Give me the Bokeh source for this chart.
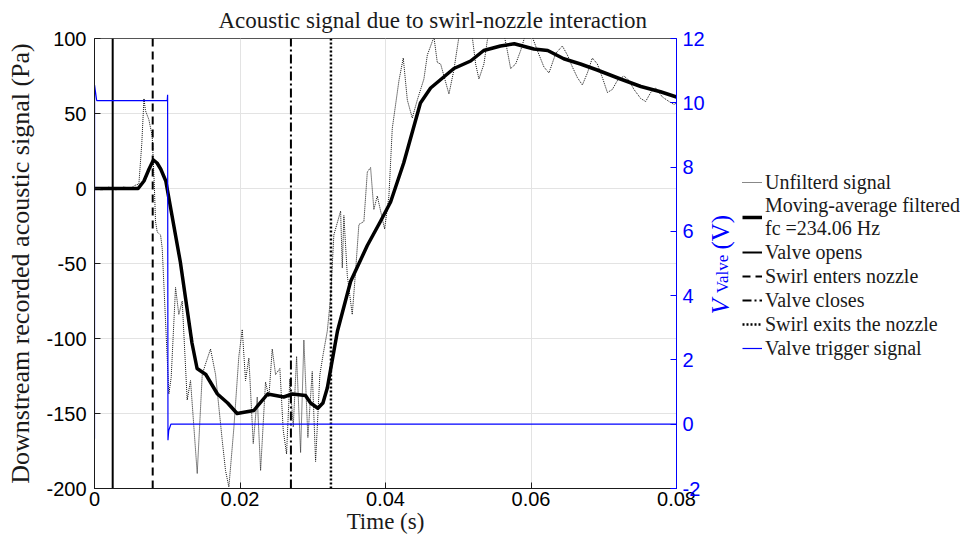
import numpy as np
from bokeh.plotting import figure
from bokeh.layouts import row
from bokeh.models import (Range1d, LinearAxis, Legend, LegendItem, Label,
                          FixedTicker)
from bokeh.embed import file_html
from bokeh.resources import INLINE

# ---------------- data ----------------
t_raw = [0.0, 0.001, 0.002, 0.003, 0.004, 0.005, 0.0055, 0.0061, 0.0065, 0.0068,
         0.0070, 0.00747, 0.00793, 0.0082, 0.00839, 0.00862, 0.00908, 0.00931,
         0.00976, 0.01022, 0.01054, 0.01114, 0.01159, 0.01206, 0.01274, 0.0132,
         0.01412, 0.01481, 0.01526, 0.01595, 0.01664, 0.01756, 0.01801, 0.01847,
         0.01915, 0.01984, 0.02031, 0.02076, 0.02122, 0.02182, 0.02237, 0.02283,
         0.02351, 0.02397, 0.02443, 0.02489, 0.02548, 0.02594, 0.0264, 0.02685,
         0.02732, 0.02778, 0.02833, 0.02878, 0.02933, 0.02993, 0.03039, 0.03098,
         0.03145, 0.032, 0.03245, 0.0329, 0.03383, 0.03406, 0.03428, 0.03475,
         0.03543, 0.03589, 0.03634, 0.03703, 0.0375, 0.03795, 0.0384, 0.03887,
         0.03933, 0.03988, 0.04047, 0.04093, 0.04185, 0.04244, 0.043, 0.04368,
         0.04437, 0.04528, 0.04575, 0.04666, 0.04712, 0.04758, 0.04872, 0.0494,
         0.05009, 0.0508, 0.05193, 0.05239, 0.05284, 0.05353, 0.054, 0.0548,
         0.05628, 0.05674, 0.0572, 0.05789, 0.05858, 0.05926, 0.06018, 0.06087,
         0.06178, 0.06247, 0.06339, 0.06431, 0.065, 0.06569, 0.06637, 0.06706,
         0.06775, 0.06843, 0.06912, 0.06981, 0.0705, 0.07118, 0.07187, 0.07278,
         0.07347, 0.07416, 0.07508, 0.07576, 0.07645, 0.07714, 0.07806, 0.07897,
         0.07966, 0.08]
p_raw = [0, -1, 1, -1, 1, 0, 2, 3, 30, 60,
         52, 46, 35, 5, -22, -29, -31, -40,
         -88, -137, -126, -66, -84, -75, -141, -128,
         -190, -124, -117, -107, -124, -168, -188, -199,
         -160, -112, -94, -128, -113, -170, -139, -188,
         -129, -139, -107, -124, -120, -161, -177, -127,
         -159, -112, -176, -101, -166, -122, -182, -124,
         -110, -95, -73, -31, -15, -53, -18, -58,
         -84, -55, -24, -22, 11, 14, -14, -5,
         -15, -27, -5, 40, 72, 87, 59, 47,
         59, 73, 89, 101, 84, 83, 63, 79,
         101, 110, 101, 83, 73, 83, 99, 110,
         103, 92, 80, 83, 92, 103, 101, 92,
         81, 77, 90, 95, 89, 81, 74, 69,
         77, 87, 83, 74, 64, 66, 72, 75,
         72, 66, 60, 58, 64, 67, 61, 58,
         56, 57]

t_ma = [0.0, 0.006, 0.0068, 0.0075, 0.0081, 0.0086, 0.0091, 0.0098, 0.0118,
        0.0134, 0.0141, 0.0153, 0.0169, 0.0183, 0.0196, 0.0219, 0.0238, 0.0260,
        0.0272, 0.0290, 0.0297, 0.0307, 0.0314, 0.0320, 0.0334, 0.0352, 0.0375,
        0.0393, 0.0407, 0.0425, 0.0448, 0.0462, 0.0494, 0.0517, 0.0535, 0.0558,
        0.0577, 0.0604, 0.0623, 0.0645, 0.0668, 0.0691, 0.0723, 0.0751, 0.0778,
        0.08]
p_ma = [0, 0, 5, 13, 19, 17, 13, 5, -49,
        -103, -120, -124, -137, -143, -150, -148, -137, -139,
        -137, -138, -143, -146.5, -143, -133, -95, -62, -38,
        -22, -9, 17, 57, 67, 80, 85, 92, 95,
        96.5, 93, 92, 86.5, 83, 79, 73, 68, 64.5,
        61]

t_trig = [0.0, 0.00001, 0.0003, 0.0100, 0.01005, 0.0101, 0.0102, 0.0105, 0.08]
v_trig = [-0.45, 10.55, 10.07, 10.07, 10.25, -0.5, -0.2, 0.0, 0.0]

event_times = [0.0025, 0.008, 0.027, 0.0325]
event_names = ["Valve opens", "Swirl enters nozzle", "Valve closes",
               "Swirl exits the nozzle"]

x_lim = (0, 0.08)
y_lim = (-200, 100)
v_lim = (-2, 12)
x_ticks = [0, 0.02, 0.04, 0.06, 0.08]
x_tick_labels = ["0", "0.02", "0.04", "0.06", "0.08"]
y_ticks = [-200, -150, -100, -50, 0, 50, 100]
y_tick_labels = ["-200", "-150", "-100", "-50", "0", "50", "100"]
v_ticks = [-2, 0, 2, 4, 6, 8, 10, 12]
v_tick_labels = ["-2", "0", "2", "4", "6", "8", "10", "12"]

# ---------------- layout constants (pixels) ----------------
H = 536
TOP, BOTTOM = 38, 46          # borders above / below the frame
SERIF = "Liberation Serif"
SANS = "Liberation Sans"
BLUE = "#0000ff"
INK = "#1a1a1a"

# ---------------- main figure ----------------
p = figure(width=708, height=H,
           x_range=Range1d(*x_lim), y_range=Range1d(*y_lim),
           output_backend="svg", toolbar_location=None,
           min_border_left=94, min_border_top=TOP, min_border_bottom=BOTTOM,
           min_border_right=32)
p.extra_y_ranges = {"v": Range1d(*v_lim)}

p.title.text = "Acoustic signal due to swirl-nozzle interaction"
p.title.text_font = SERIF
p.title.text_font_size = "23px"
p.title.text_font_style = "normal"
p.title.text_color = INK
p.title.align = "left"
p.title.offset = 124
p.title.standoff = 11

p.outline_line_color = "#555555"
p.outline_line_width = 1

for ax in (p.xaxis[0], p.yaxis[0]):
    ax.major_tick_in = 6
    ax.major_tick_out = 0
    ax.minor_tick_line_color = None
    ax.axis_line_color = INK
    ax.major_tick_line_color = INK
    ax.major_label_text_font = SANS
    ax.major_label_text_font_size = "20px"
    ax.major_label_text_color = "#000000"
    ax.axis_label_text_font = SERIF
    ax.axis_label_text_font_style = "normal"
    ax.axis_label_text_color = INK

p.xaxis[0].ticker = FixedTicker(ticks=x_ticks)
p.xaxis[0].major_label_overrides = dict(zip(x_ticks, x_tick_labels))
p.xaxis[0].axis_label = "Time (s)"
p.xaxis[0].axis_label_text_font_size = "23px"
p.xaxis[0].major_label_standoff = 3
p.xaxis[0].axis_label_standoff = 0
p.yaxis[0].ticker = FixedTicker(ticks=y_ticks)
p.yaxis[0].major_label_overrides = dict(zip(y_ticks, y_tick_labels))
p.yaxis[0].axis_label = "Downstream recorded acoustic signal (Pa)"
p.yaxis[0].axis_label_text_font_size = "26px"
p.yaxis[0].major_label_standoff = 8
p.yaxis[0].axis_label_standoff = 8

raxis = LinearAxis(y_range_name="v", ticker=FixedTicker(ticks=v_ticks))
raxis.major_label_overrides = dict(zip(v_ticks, v_tick_labels))
raxis.major_tick_in = 6
raxis.major_tick_out = 0
raxis.minor_tick_line_color = None
raxis.axis_line_color = BLUE
raxis.major_tick_line_color = BLUE
raxis.major_label_text_color = BLUE
raxis.major_label_text_font = SANS
raxis.major_label_text_font_size = "20px"
raxis.major_label_standoff = 6
p.add_layout(raxis, "right")

p.xgrid.ticker = FixedTicker(ticks=x_ticks)
p.ygrid.ticker = FixedTicker(ticks=y_ticks)
p.grid.grid_line_color = "#e3e3e3"
p.grid.grid_line_width = 1

RAW_STYLE = dict(line_color="#111111", line_width=1, line_dash="1 1")
MA_STYLE = dict(line_color="#000000", line_width=3.5, line_join="round")
EV_DASHES = ["solid", "8 5", "9 3 2 3", "2 2"]
EV_WIDTHS = [2, 2, 2, 2.5]
TRIG_STYLE = dict(line_color=BLUE, line_width=1.2)

p.line(t_raw, p_raw, **RAW_STYLE)
p.line(t_ma, p_ma, **MA_STYLE)
for t, d, w in zip(event_times, EV_DASHES, EV_WIDTHS):
    p.line([t, t], list(y_lim), line_color="#000000", line_width=w,
           line_dash=d)
p.line(t_trig, v_trig, y_range_name="v", **TRIG_STYLE)

# ---------------- legend panel (right) ----------------
# its frame shares the main frame's vertical extent; the y range is chosen so
# that a y value equals (page height - pixel row)
LW = 252
q = figure(width=LW, height=H, x_range=Range1d(0, LW),
           y_range=Range1d(BOTTOM, H - TOP),
           title=None, output_backend="svg", toolbar_location=None,
           x_axis_location=None, y_axis_location=None,
           min_border_left=0, min_border_right=0,
           min_border_top=TOP, min_border_bottom=BOTTOM)
q.outline_line_color = None
q.grid.visible = False

nan = [float("nan")]
lr_raw = q.line(nan, nan, **RAW_STYLE)
lr_ma = q.line(nan, nan, **MA_STYLE)
lr_ev = [q.line(nan, nan, line_color="#000000", line_width=w, line_dash=d)
         for d, w in zip(EV_DASHES, EV_WIDTHS)]
lr_trig = q.line(nan, nan, **TRIG_STYLE)

items = [LegendItem(label="Unfilterd signal", renderers=[lr_raw]),
         LegendItem(label="Moving-average filtered\nfc =234.06 Hz",
                    renderers=[lr_ma])]
for name, r in zip(event_names, lr_ev):
    items.append(LegendItem(label=name, renderers=[r]))
items.append(LegendItem(label="Valve trigger signal", renderers=[lr_trig]))

legend_bottom_px = 362
legend = Legend(items=items, location=(34, H - BOTTOM - legend_bottom_px))
legend.border_line_color = None
legend.background_fill_alpha = 0
legend.label_text_font = SERIF
legend.label_text_font_size = "20px"
legend.label_text_color = INK
legend.label_standoff = 3
legend.glyph_width = 20
legend.glyph_height = 24
legend.label_height = 24
legend.spacing = 0
legend.padding = 0
legend.margin = 0
q.add_layout(legend, "center")

# right-axis label: V_Valve (V)
q.add_layout(Label(x=12, y=H - 315, text="V", angle=np.pi / 2,
                   text_font=SERIF, text_font_style="italic",
                   text_font_size="25px", text_color=BLUE,
                   text_align="left", text_baseline="middle"))
q.add_layout(Label(x=14, y=H - 294, text="Valve", angle=np.pi / 2,
                   text_font=SERIF, text_font_size="17px", text_color=BLUE,
                   text_align="left", text_baseline="middle"))
q.add_layout(Label(x=12, y=H - 250, text="(V)", angle=np.pi / 2,
                   text_font=SERIF, text_font_size="25px", text_color=BLUE,
                   text_align="left", text_baseline="middle"))

layout = row(p, q, spacing=0)
open("out.html", "w").write(file_html(layout, INLINE))
